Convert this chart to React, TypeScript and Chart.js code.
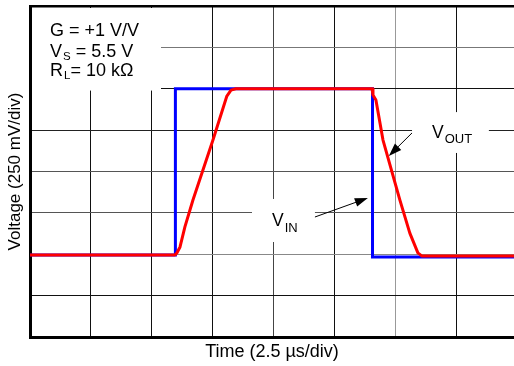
import { useEffect, useRef } from 'react';
import { Chart, registerables } from 'chart.js';

Chart.register(...registerables);

// ---- axes (time in µs, 2.5 µs/div; voltage in V, 250 mV/div) ----
const X_TICKS = [0, 2.5, 5, 7.5, 10, 12.5, 15, 17.5];
const X_MAX = 19.84;
const Y_TICKS = [0, 0.25, 0.5, 0.75, 1.0, 1.25, 1.5, 1.75, 2.0];
const X_GRID_COLORS = ['#000', '#111', '#111', '#111', '#444', '#111', '#999', '#111'];
const Y_GRID_COLORS = ['#000', '#111', '#888', '#555', '#555', '#222', '#111', '#777', '#000'];

// ---- series ----
const VIN_T = [0, 5.96, 5.96, 14.04, 14.04, 19.84];
const VIN_V = [0.495, 0.495, 1.5, 1.5, 0.483, 0.483];

const VOUT_T = [0, 5.94, 6.02, 6.15, 6.35, 6.68, 7.5, 8.07, 8.24, 8.44, 14.02, 14.06, 14.18, 14.47, 15.16, 15.57, 15.9, 16.07, 19.84];
const VOUT_V = [0.495, 0.495, 0.508, 0.544, 0.665, 0.828, 1.19, 1.456, 1.492, 1.5, 1.5, 1.462, 1.432, 1.19, 0.828, 0.628, 0.508, 0.489, 0.489];

// ---- texts ----
const X_TITLE = 'Time (2.5 µs/div)';
const Y_TITLE = 'Voltage (250 mV/div)';
const INFO_LINES = [
  { main: 'G = +1 V/V', sub: '', rest: '' },
  { main: 'V', sub: 'S', rest: ' = 5.5 V' },
  { main: 'R', sub: 'L', rest: '= 10 kΩ' },
];
const VOUT_TEXT = { main: 'V', sub: 'OUT' };
const VIN_TEXT = { main: 'V', sub: 'IN' };

// ---- annotation anchors (data units) ----
const INFO_X = 0.82;
const INFO_BASE = [1.82, 1.694, 1.577];
const INFO_BOX = { t1: 5.37, v0: 1.489 };
const VOUT_BOX = [15.66, 18.81, 1.112, 1.359];
const VIN_BOX = [9.1, 11.68, 0.574, 0.834];
const VOUT_LABEL = { t: 16.48, v: 1.2 };
const VIN_LABEL = { t: 9.92, v: 0.672 };
const VOUT_ARROW = [15.66, 1.233, 14.71, 1.094];
const VIN_ARROW = [11.68, 0.725, 13.85, 0.84];

const FONT = '"Liberation Sans", Arial, Helvetica, sans-serif';

function drawLabel(ctx: CanvasRenderingContext2D, x: number, base: number, main: string, sub: string, rest: string, mainSize: number, subSize: number, drop: number) {
  ctx.font = `${mainSize}px ${FONT}`;
  ctx.fillText(main, x, base);
  let cx = x + ctx.measureText(main).width + 1;
  if (sub) {
    ctx.font = `${subSize}px ${FONT}`;
    ctx.fillText(sub, cx, base + drop);
    cx += ctx.measureText(sub).width;
  }
  if (rest) {
    ctx.font = `${mainSize}px ${FONT}`;
    ctx.fillText(rest, cx, base);
  }
}

function drawArrow(ctx: CanvasRenderingContext2D, x0: number, y0: number, x1: number, y1: number, len: number, w: number) {
  const a = Math.atan2(y1 - y0, x1 - x0);
  const c = Math.cos(a), s = Math.sin(a);
  const bx = x1 - len * c, by = y1 - len * s;
  ctx.beginPath();
  ctx.moveTo(x0, y0);
  ctx.lineTo(bx + 2 * c, by + 2 * s);
  ctx.stroke();
  ctx.beginPath();
  ctx.moveTo(x1, y1);
  ctx.lineTo(bx - (w / 2) * s, by + (w / 2) * c);
  ctx.lineTo(bx + (w / 2) * s, by - (w / 2) * c);
  ctx.closePath();
  ctx.fill();
}

const annotations = {
  id: 'annotations',
  beforeDatasetsDraw(chart: any) {
    const { ctx, chartArea: a, scales } = chart;
    const X = (v: number) => scales.x.getPixelForValue(v);
    const Y = (v: number) => scales.y.getPixelForValue(v);
    ctx.save();
    ctx.fillStyle = '#fff';
    ctx.fillRect(a.left + 2, a.top + 2, X(INFO_BOX.t1) - a.left - 2, Y(INFO_BOX.v0) - a.top - 2);
    for (const b of [VOUT_BOX, VIN_BOX]) {
      ctx.fillRect(X(b[0]), Y(b[3]), X(b[1]) - X(b[0]), Y(b[2]) - Y(b[3]));
    }
    ctx.restore();
  },
  afterDatasetsDraw(chart: any) {
    const { ctx, scales } = chart;
    const X = (v: number) => scales.x.getPixelForValue(v);
    const Y = (v: number) => scales.y.getPixelForValue(v);
    ctx.save();
    ctx.fillStyle = '#000';
    ctx.strokeStyle = '#000';
    ctx.lineWidth = 1;
    ctx.textBaseline = 'alphabetic';
    ctx.textAlign = 'left';
    INFO_LINES.forEach((l, i) => drawLabel(ctx, X(INFO_X), Y(INFO_BASE[i]), l.main, l.sub, l.rest, 18, 11.5, 3));
    drawLabel(ctx, X(VOUT_LABEL.t), Y(VOUT_LABEL.v), VOUT_TEXT.main, VOUT_TEXT.sub, '', 17.5, 13, 4.5);
    drawLabel(ctx, X(VIN_LABEL.t), Y(VIN_LABEL.v), VIN_TEXT.main, VIN_TEXT.sub, '', 17.5, 13, 6);
    drawArrow(ctx, X(VOUT_ARROW[0]), Y(VOUT_ARROW[1]), X(VOUT_ARROW[2]), Y(VOUT_ARROW[3]), 13, 9);
    drawArrow(ctx, X(VIN_ARROW[0]), Y(VIN_ARROW[1]), X(VIN_ARROW[2]), Y(VIN_ARROW[3]), 13, 9);
    ctx.restore();
  },
};

export default function App() {
  const ref = useRef<HTMLCanvasElement>(null);
  useEffect(() => {
    const chart = new Chart(ref.current as HTMLCanvasElement, {
      type: 'line',
      data: {
        datasets: [
          {
            label: 'VOUT',
            data: VOUT_T.map((t, i) => ({ x: t, y: VOUT_V[i] })),
            borderColor: '#ff0000',
            borderWidth: 3,
            pointRadius: 0,
            tension: 0,
            borderJoinStyle: 'round',
            order: 0,
          },
          {
            label: 'VIN',
            data: VIN_T.map((t, i) => ({ x: t, y: VIN_V[i] })),
            borderColor: '#0000ff',
            borderWidth: 3,
            pointRadius: 0,
            tension: 0,
            order: 1,
          },
        ],
      },
      options: {
        animation: false,
        responsive: false,
        devicePixelRatio: 1,
        layout: { padding: { left: 4, top: 6, right: 0, bottom: 0 } },
        plugins: { legend: { display: false }, tooltip: { enabled: false } },
        scales: {
          x: {
            type: 'linear',
            min: 0,
            max: X_MAX,
            afterBuildTicks: (scale: any) => {
              scale.ticks = X_TICKS.map((v) => ({ value: v }));
            },
            ticks: { display: false },
            grid: {
              drawTicks: false,
              color: (c: any) => X_GRID_COLORS[c.index] ?? '#000',
              lineWidth: 1,
            },
            border: { display: true, color: '#000', width: 3 },
            title: {
              display: true,
              text: X_TITLE,
              color: '#000',
              font: { family: FONT, size: 18 },
              padding: { top: 4.7, bottom: 2.7 },
            },
          },
          y: {
            type: 'linear',
            min: 0,
            max: 2,
            afterBuildTicks: (scale: any) => {
              scale.ticks = Y_TICKS.map((v) => ({ value: v }));
            },
            ticks: { display: false },
            grid: {
              drawTicks: false,
              color: (c: any) => Y_GRID_COLORS[c.index] ?? '#000',
              lineWidth: (c: any) => (c.index === Y_TICKS.length - 1 ? 2.5 : 1),
            },
            border: { display: true, color: '#000', width: 3 },
            title: {
              display: true,
              text: Y_TITLE,
              color: '#000',
              font: { family: FONT, size: 17 },
              padding: { top: 1.3, bottom: 4.3 },
            },
          },
        },
      },
      plugins: [annotations],
    } as any);
    return () => chart.destroy();
  }, []);
  return (
    <div style={{ position: 'fixed', left: 0, top: 0, width: 514, height: 366, background: '#fff', overflow: 'hidden' }}>
      <canvas ref={ref} width={514} height={366} style={{ display: 'block', width: 514, height: 366 }} />
    </div>
  );
}
